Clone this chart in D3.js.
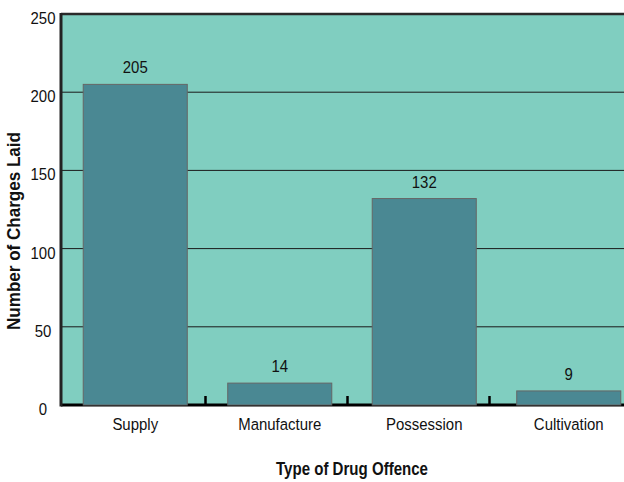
<!DOCTYPE html>
<html>
<head>
<meta charset="utf-8">
<script src="https://cdn.jsdelivr.net/npm/d3@7/dist/d3.min.js"></script>
<style>
  html, body { margin: 0; padding: 0; background: #ffffff; }
  svg { display: block; }
</style>
</head>
<body>
<svg id="chart" width="624" height="482"></svg>
<script>
// Drug offence charges by type
const categories = ["Supply", "Manufacture", "Possession", "Cultivation"];
const charges = [205, 14, 132, 9];
const yTicks = [0, 50, 100, 150, 200, 250];

const svg = d3.select("#chart");
const plotLeft = 61, plotTop = 14, plotBottom = 405;
const plotRight = 641; // the last band runs past the window edge
const FONT = "Liberation Sans, Arial, sans-serif";
const SQUEEZE = 0.88; // condensed look for all labels

const x = d3.scaleBand().domain(categories).range([plotLeft + 2, plotRight]).paddingInner(0.28).paddingOuter(0.14);
const y = d3.scaleLinear().domain([0, 250]).range([plotBottom, plotTop]);

// plot background
svg.append("rect")
  .attr("x", plotLeft).attr("y", plotTop)
  .attr("width", 624 - plotLeft).attr("height", plotBottom - plotTop)
  .attr("fill", "#80cec0");

// horizontal grid lines
svg.append("g").selectAll("line")
  .data(yTicks.filter(d => d > 0 && d < 250))
  .join("line")
  .attr("x1", plotLeft).attr("x2", 624)
  .attr("y1", d => y(d)).attr("y2", d => y(d))
  .attr("stroke", "#1a1a1a").attr("stroke-width", 1);

// top frame line
svg.append("line")
  .attr("x1", plotLeft).attr("x2", 624)
  .attr("y1", y(250)).attr("y2", y(250))
  .attr("stroke", "#2a2a2a").attr("stroke-width", 2.5);

// baseline and category separator ticks
svg.append("line")
  .attr("x1", plotLeft).attr("x2", 624)
  .attr("y1", plotBottom).attr("y2", plotBottom)
  .attr("stroke", "#000").attr("stroke-width", 3);

const gap = x.step() - x.bandwidth();
svg.append("g").selectAll("line")
  .data(categories.slice(1))
  .join("line")
  .attr("x1", (d, i) => x(d) - gap / 2 - 2 - 2.5 * i)
  .attr("x2", (d, i) => x(d) - gap / 2 - 2 - 2.5 * i)
  .attr("y1", plotBottom).attr("y2", plotBottom - 9)
  .attr("stroke", "#000").attr("stroke-width", 2.5);

// bars
svg.append("g").selectAll("rect")
  .data(categories)
  .join("rect")
  .attr("x", d => x(d))
  .attr("y", (d, i) => y(charges[i]))
  .attr("width", x.bandwidth())
  .attr("height", (d, i) => plotBottom - y(charges[i]))
  .attr("fill", "#4a8893")
  .attr("stroke", "#666666")
  .attr("stroke-width", 1);

// helper: squeezed text placed at (px, py)
function label(g, px, py) {
  return g.attr("transform", (d, i) => `translate(${px(d, i)},${py(d, i)}) scale(${SQUEEZE},1)`)
    .attr("text-anchor", "middle")
    .attr("font-family", FONT)
    .attr("font-size", 17)
    .attr("fill", "#111");
}

// value labels
label(svg.append("g").selectAll("text").data(categories).join("text"),
      d => x(d) + x.bandwidth() / 2,
      (d, i) => y(charges[i]) - 11)
  .text((d, i) => charges[i]);

// left axis line
svg.append("line")
  .attr("x1", plotLeft).attr("x2", plotLeft)
  .attr("y1", plotTop - 1).attr("y2", plotBottom + 1.5)
  .attr("stroke", "#222").attr("stroke-width", 3);

// y tick labels
label(svg.append("g").selectAll("text").data(yTicks).join("text"),
      () => 43,
      d => y(d) + 10)
  .text(d => d);

// category labels
label(svg.append("g").selectAll("text").data(categories).join("text"),
      d => x(d) + x.bandwidth() / 2,
      () => 430)
  .text(d => d);

// axis titles
svg.append("text")
  .attr("x", 352).attr("y", 475)
  .attr("text-anchor", "middle")
  .attr("font-family", FONT)
  .attr("font-weight", "bold")
  .attr("font-size", 18)
  .attr("textLength", 152)
  .attr("lengthAdjust", "spacingAndGlyphs")
  .attr("fill", "#111")
  .text("Type of Drug Offence");

svg.append("text")
  .attr("transform", "translate(20,231) rotate(-90)")
  .attr("text-anchor", "middle")
  .attr("font-family", FONT)
  .attr("font-weight", "bold")
  .attr("font-size", 18)
  .attr("textLength", 198)
  .attr("lengthAdjust", "spacingAndGlyphs")
  .attr("fill", "#111")
  .text("Number of Charges Laid");
</script>
</body>
</html>
